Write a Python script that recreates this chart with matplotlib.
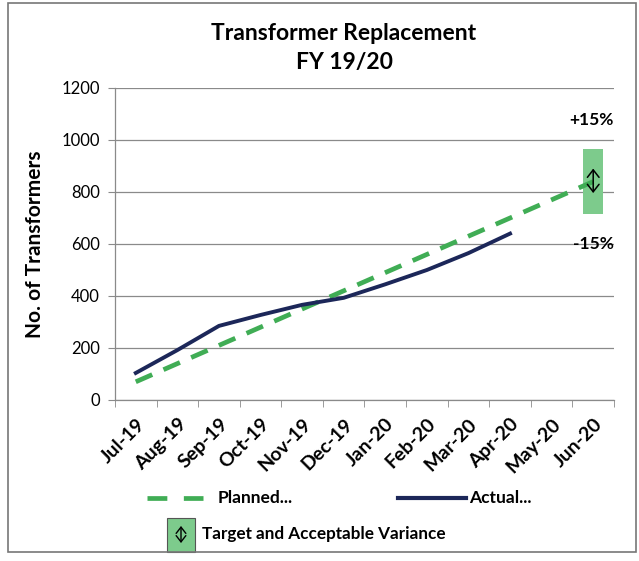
import matplotlib
matplotlib.use("Agg")
import matplotlib.pyplot as plt
from matplotlib.lines import Line2D
from matplotlib.patches import Rectangle, FancyArrowPatch

plt.rcParams['font.family'] = ['Lato', 'DejaVu Sans']

months = ['Jul-19', 'Aug-19', 'Sep-19', 'Oct-19', 'Nov-19', 'Dec-19',
          'Jan-20', 'Feb-20', 'Mar-20', 'Apr-20', 'May-20', 'Jun-20']
planned = [70, 140, 210, 280, 350, 420, 490, 560, 630, 700, 770, 840]
actual = [104, 192, 285, 327, 366, 393, 445, 500, 565, 640]
target = 840
variance = 0.15

green = '#40AD55'
navy = '#1C2759'
box_green = '#7DCB8C'

fig = plt.figure(figsize=(6.39, 5.61), dpi=100)
ax = fig.add_axes([115 / 639, 1 - 400 / 561, (614 - 115) / 639, (400 - 88) / 561])

x = list(range(len(months)))

# target band with acceptable variance
lo, hi = target * (1 - variance), target * (1 + variance)
ax.bar(x[-1], hi - lo, bottom=lo, width=0.48, color=box_green, zorder=2)
ax.annotate('', xy=(x[-1], 890), xytext=(x[-1], 796),
            arrowprops=dict(arrowstyle='<->,head_length=0.45,head_width=0.35',
                            color='black', lw=1.1, mutation_scale=12,
                            shrinkA=0, shrinkB=0), zorder=5)

ax.plot(x, planned, color=green, lw=3.4, dashes=(3.8, 2.6), zorder=3)
ax.plot(x[:len(actual)], actual, color=navy, lw=2.8, zorder=4)

ax.text(11.5, 1078, '+15%', ha='right', va='center', fontsize=12.5, fontweight='bold')
ax.text(11.5, 600, '-15%', ha='right', va='center', fontsize=12.5, fontweight='bold')

ax.set_xlim(-0.5, 11.5)
ax.set_ylim(0, 1200)
ax.set_yticks(range(0, 1201, 200))
ax.grid(axis='y', color='#8a8a8a', lw=0.9, zorder=0)
ax.set_axisbelow(True)
for s in ['top', 'right']:
    ax.spines[s].set_visible(False)
for s in ['left', 'bottom']:
    ax.spines[s].set_color('#8a8a8a')
    ax.spines[s].set_linewidth(0.9)

ax.set_xticks(x)
ax.set_xticklabels(months, rotation=45, ha='right', rotation_mode='anchor',
                   fontsize=14, fontweight='bold')
ax.set_xticks([i - 0.5 for i in range(len(months) + 1)], minor=True)
ax.tick_params(axis='x', which='major', length=0, pad=11)
ax.tick_params(axis='x', which='minor', length=5, color='#8a8a8a')
ax.tick_params(axis='y', length=5, color='#8a8a8a', labelsize=12, pad=6)

ax.set_ylabel('No. of Transformers', fontsize=15, fontweight='bold', labelpad=12)

fig.text(344 / 639, 1 - 33 / 561, 'Transformer Replacement', ha='center', va='center',
         fontsize=16.5, fontweight='bold')
fig.text(344 / 639, 1 - 63 / 561, 'FY 19/20', ha='center', va='center',
         fontsize=16.5, fontweight='bold')

# legend
def fx(px):
    return px / 639

def fy(py):
    return 1 - py / 561

fig.add_artist(Line2D([fx(147), fx(203)], [fy(498), fy(498)], color=green, lw=3.4,
                      dashes=(4.2, 3.5)))
fig.text(fx(218), fy(498), 'Planned...', ha='left', va='center', fontsize=12.5, fontweight='bold')
fig.add_artist(Line2D([fx(398), fx(466)], [fy(498), fy(498)], color=navy, lw=3.0))
fig.text(fx(469), fy(498), 'Actual...', ha='left', va='center', fontsize=12.5, fontweight='bold')

fig.add_artist(Rectangle((fx(167), fy(552)), fx(28), fy(518) - fy(552),
                         facecolor=box_green, edgecolor='#555555', lw=0.8))
fig.add_artist(FancyArrowPatch((fx(181), fy(543)), (fx(181), fy(526)),
                               arrowstyle='<->,head_length=0.45,head_width=0.35',
                               mutation_scale=10, color='black', lw=1.0,
                               shrinkA=0, shrinkB=0))
fig.text(fx(202), fy(534), 'Target and Acceptable Variance', ha='left', va='center',
         fontsize=12.3, fontweight='bold')

# chart area border
fig.add_artist(Rectangle((fx(8), fy(552)), fx(628), fy(3) - fy(552), fill=False,
                         edgecolor='#777777', lw=1.2))

fig.savefig('out.png', dpi=100)
